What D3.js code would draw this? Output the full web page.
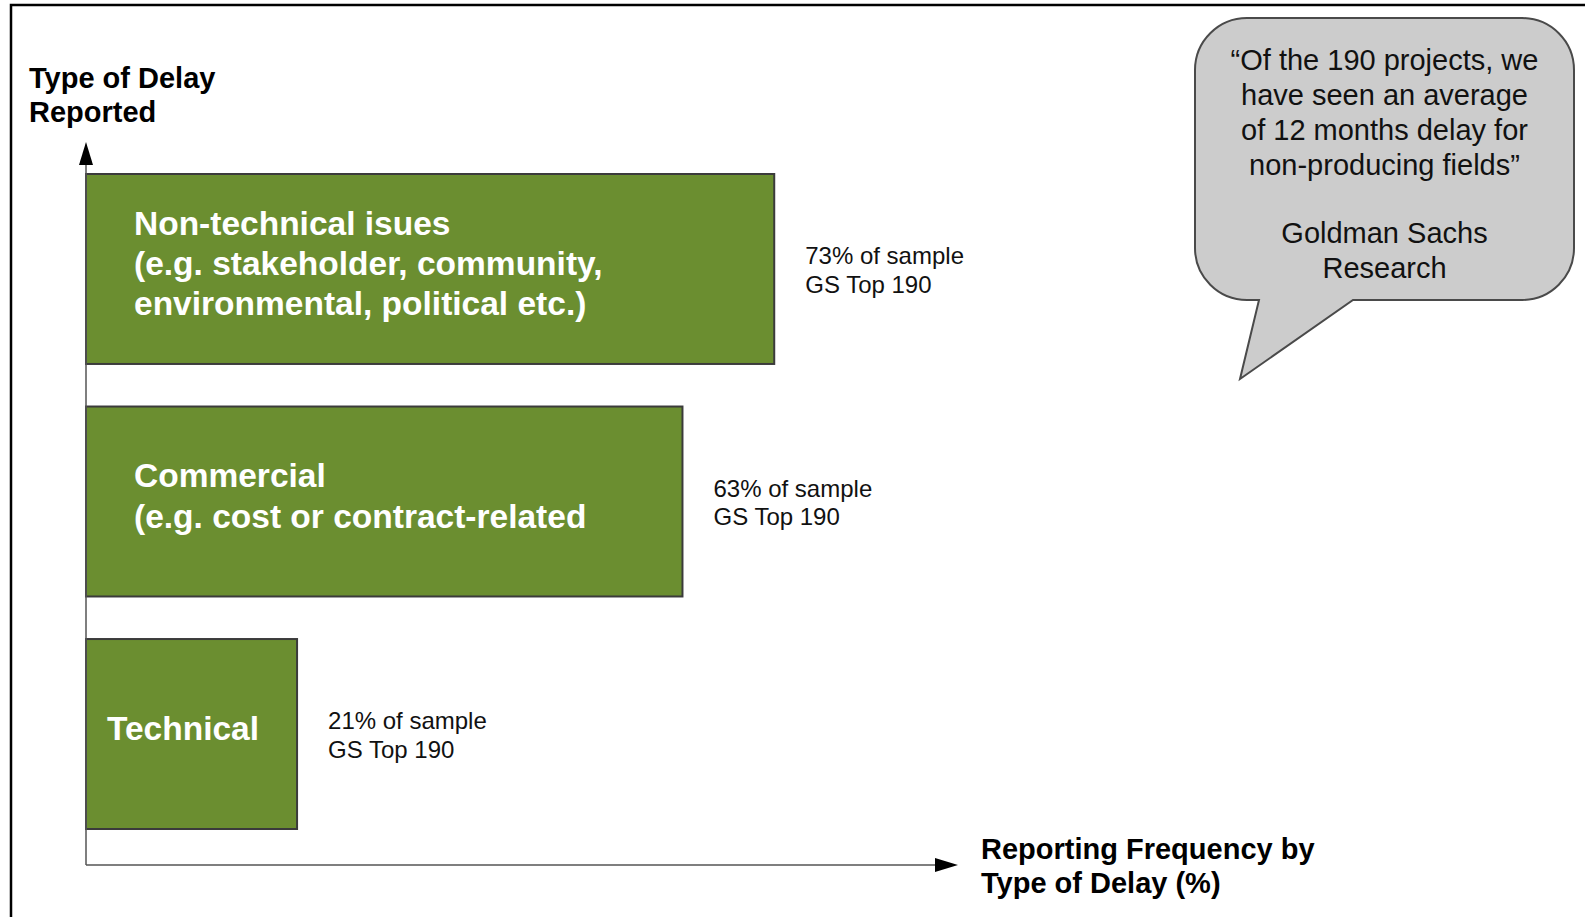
<!DOCTYPE html>
<html>
<head>
<meta charset="utf-8">
<script src="https://cdn.jsdelivr.net/npm/d3@7"></script>
<style>
  body { margin: 0; background: #fff; }
  text { font-family: "Liberation Sans", Arial, sans-serif; }
</style>
</head>
<body>
<div id="chart"></div>
<script>
// Types of project delay reported - GS Top 190
const categories = ["Non-technical", "Commercial", "Technical"];
const barLabels = [
  ["Non-technical isues", "(e.g. stakeholder, community,", "environmental, political etc.)"],
  ["Commercial", "(e.g. cost or contract-related"],
  ["Technical"]
];
const sharePct = [73, 63, 21];
const sampleName = "GS Top 190";
const yTitle = ["Type of Delay", "Reported"];
const xTitle = ["Reporting Frequency by", "Type of Delay (%)"];
const quoteLines = ["\u201cOf the 190 projects, we", "have seen an average", "of 12 months delay for", "non-producing fields\u201d"];
const sourceLines = ["Goldman Sachs", "Research"];

const W = 1585, H = 917;
const originX = 86, originY = 865;

const svg = d3.select("#chart")
  .append("svg")
  .attr("width", W)
  .attr("height", H);

// page frame (left + top only)
svg.append("path")
  .attr("d", `M11,${H} V5 H${W}`)
  .attr("fill", "none")
  .attr("stroke", "#000")
  .attr("stroke-width", 2.5);

// arrow head marker
svg.append("defs").append("marker")
  .attr("id", "arrow")
  .attr("markerUnits", "userSpaceOnUse")
  .attr("viewBox", "0 0 23 14")
  .attr("refX", 0)
  .attr("refY", 7)
  .attr("markerWidth", 23)
  .attr("markerHeight", 14)
  .attr("orient", "auto")
  .append("path")
  .attr("d", "M0,0 L23,7 L0,14 Z")
  .attr("fill", "#000");

// scales - the drawn axis starts a touch below zero
const x = d3.scaleLinear()
  .domain([-2, 100])
  .range([0, 936]);

const y = d3.scaleBand()
  .domain(categories)
  .range([174, 829])
  .paddingInner(0.183)
  .paddingOuter(0);

const data = categories.map((c, i) => ({ cat: c, pct: sharePct[i], lines: barLabels[i] }));

// bars
svg.append("g")
  .selectAll("rect")
  .data(data)
  .join("rect")
  .attr("x", originX)
  .attr("y", d => y(d.cat))
  .attr("width", d => x(d.pct) - x(-2))
  .attr("height", y.bandwidth())
  .attr("fill", "#6b8e30")
  .attr("stroke", "#3b3b3b")
  .attr("stroke-width", 2);

// labels inside bars
const barText = svg.append("g")
  .selectAll("text")
  .data(data)
  .join("text")
  .attr("fill", "#fff")
  .attr("font-weight", "bold")
  .attr("font-size", 33.5);

barText.each(function(d) {
  const lh = 40.4;
  const inset = d.lines.length > 1 ? 48 : 21;
  const cy = y(d.cat) + y.bandwidth() / 2 - 6;
  const first = cy - (d.lines.length - 1) * lh / 2 + 12;
  d3.select(this).selectAll("tspan")
    .data(d.lines)
    .join("tspan")
    .attr("x", originX + inset)
    .attr("y", (t, j) => first + j * lh)
    .text(t => t);
});

// share labels to the right of bars
const valText = svg.append("g")
  .selectAll("text")
  .data(data)
  .join("text")
  .attr("fill", "#111")
  .attr("font-size", 24);

valText.each(function(d) {
  const cy = y(d.cat) + y.bandwidth() / 2;
  d3.select(this).selectAll("tspan")
    .data([`${d.pct}% of sample`, sampleName])
    .join("tspan")
    .attr("x", originX + x(d.pct) + 31)
    .attr("y", (t, j) => cy - 5 + j * 28.8)
    .text(t => t);
});

// axes (plain arrows, no ticks)
svg.append("line")
  .attr("x1", originX).attr("y1", originY)
  .attr("x2", originX).attr("y2", 165)
  .attr("stroke", "#555")
  .attr("stroke-width", 1.5)
  .attr("marker-end", "url(#arrow)");

svg.append("line")
  .attr("x1", originX).attr("y1", originY)
  .attr("x2", 935).attr("y2", originY)
  .attr("stroke", "#555")
  .attr("stroke-width", 1.5)
  .attr("marker-end", "url(#arrow)");

// axis titles
svg.append("text")
  .attr("font-size", 29)
  .attr("font-weight", "bold")
  .attr("fill", "#000")
  .selectAll("tspan")
  .data(yTitle)
  .join("tspan")
  .attr("x", 29)
  .attr("y", (t, j) => 88 + j * 33.5)
  .text(t => t);

svg.append("text")
  .attr("font-size", 29)
  .attr("font-weight", "bold")
  .attr("fill", "#000")
  .selectAll("tspan")
  .data(xTitle)
  .join("tspan")
  .attr("x", 981)
  .attr("y", (t, j) => 859 + j * 34)
  .text(t => t);

// speech bubble
const bx0 = 1195, bx1 = 1574, by0 = 18, by1 = 300, r = 52;
const bubble = `M${bx0 + r},${by0} H${bx1 - r} A${r},${r} 0 0 1 ${bx1},${by0 + r}
  V${by1 - r} A${r},${r} 0 0 1 ${bx1 - r},${by1} H1353 L1240,379 L1259,${by1}
  H${bx0 + r} A${r},${r} 0 0 1 ${bx0},${by1 - r} V${by0 + r} A${r},${r} 0 0 1 ${bx0 + r},${by0} Z`;

svg.append("path")
  .attr("d", bubble)
  .attr("fill", "#cccccc")
  .attr("stroke", "#4a4a4a")
  .attr("stroke-width", 2);

const bubbleText = svg.append("text")
  .attr("font-size", 29)
  .attr("fill", "#111")
  .attr("text-anchor", "middle");

bubbleText.selectAll("tspan.q")
  .data(quoteLines)
  .join("tspan")
  .attr("class", "q")
  .attr("x", (bx0 + bx1) / 2)
  .attr("y", (t, j) => 70 + j * 35)
  .text(t => t);

bubbleText.selectAll("tspan.s")
  .data(sourceLines)
  .join("tspan")
  .attr("class", "s")
  .attr("x", (bx0 + bx1) / 2)
  .attr("y", (t, j) => 243 + j * 35)
  .text(t => t);
</script>
</body>
</html>
